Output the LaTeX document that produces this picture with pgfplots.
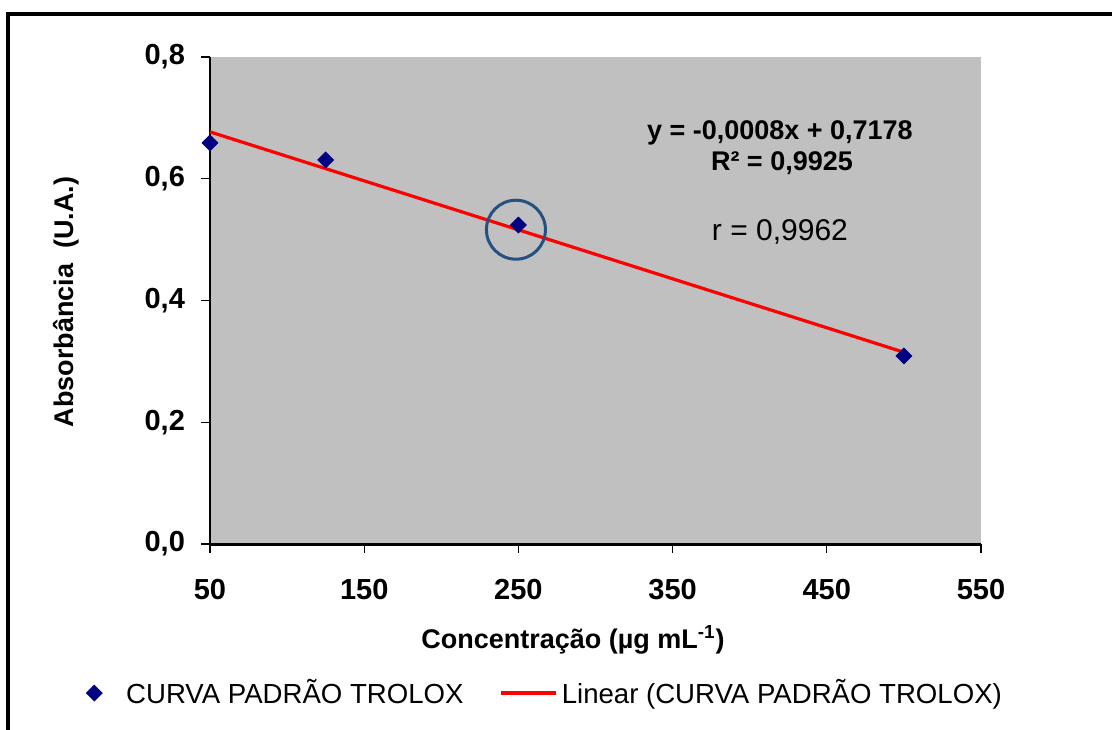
\documentclass[border=0pt]{standalone}
\usepackage{fontspec}
\setmainfont{Liberation Sans}
\usepackage{pgfplots}
\pgfplotsset{compat=1.18}
\definecolor{navy}{RGB}{0,0,128}
\definecolor{plotgray}{RGB}{192,192,192}
\definecolor{ringblue}{RGB}{38,80,130}

% legend images: a centred marker and a short line, both 27.5pt wide
\pgfplotsset{
  markleg/.style={legend image code/.code={\path (0pt,0pt) (27.5pt,0pt);
    \draw[##1] plot coordinates {(13.75pt,0pt)};}},
  lineleg/.style={legend image code/.code={\draw[##1] (0pt,0pt) -- (27.5pt,0pt);}},
}

\begin{document}
\begin{tikzpicture}
\useasboundingbox (0,0) rectangle (556pt,364.5pt);
% frame of the chart area
\draw[line width=2pt] (4pt,-2pt) -- (4pt,357.5pt) -- (562pt,357.5pt);
\begin{axis}[
  at={(105pt,92.5pt)}, anchor=south west,
  scale only axis, width=385.5pt, height=243.5pt,
  xmin=50, xmax=550, ymin=0, ymax=0.8,
  axis background/.style={fill=plotgray},
  axis x line*=bottom, axis y line*=left,
  x axis line style={line width=1.5pt, -},
  y axis line style={line width=0.6pt, -},
  xtick={50,150,250,350,450,550},
  ytick={0,0.2,0.4,0.6,0.8},
  tick align=outside, major tick length=4.5pt,
  tick style={black, line width=0.6pt},
  /pgf/number format/assume math mode=true,
  ticklabel style={font=\fontsize{14.5}{17}\selectfont\bfseries},
  yticklabel style={xshift=-4.5pt, /pgf/number format/.cd, fixed, fixed zerofill, precision=1, use comma},
  xticklabel style={yshift=-9.5pt, /pgf/number format/.cd, fixed, precision=0},
  xlabel={Concentração (µg mL\textsuperscript{-1})},
  ylabel={Absorbância\ \ (U.A.)},
  label style={font=\fontsize{13.5}{16}\selectfont\bfseries},
  xlabel style={at={(axis description cs:0.4708,-0.197)}, anchor=center},
  ylabel style={at={(axis description cs:-0.1868,0.497)}, anchor=center, rotate=0},
  legend columns=2,
  legend style={at={(-0.1868,-0.306)}, anchor=west, draw=none, fill=none,
    font=\fontsize{13.8}{16}\selectfont, inner sep=0pt,
    nodes={inner sep=2pt},
    /tikz/every even column/.append style={column sep=16pt}},
  clip=false,
]
\addplot[only marks, mark=square*, mark size=2.8pt,
  mark options={rotate=45, fill=navy, draw=navy}, markleg]
  coordinates {(50,0.659) (125,0.631) (250,0.524) (500,0.309)};
\addlegendentry{CURVA PADRÃO TROLOX}
\addplot[red, line width=1.6pt, lineleg]
  coordinates {(50,0.677) (500,0.315)};
\addlegendentry{Linear (CURVA PADRÃO TROLOX)}
\draw[ringblue, line width=1.5pt] (axis cs:248.4,0.5163) circle[radius=14.75pt];
\node[font=\fontsize{13.5}{16}\selectfont\bfseries] at (axis cs:419.6,0.675) {y = -0,0008x + 0,7178};
\node[font=\fontsize{13.5}{16}\selectfont\bfseries] at (axis cs:420.9,0.626) {R² = 0,9925};
\node[font=\fontsize{15}{18}\selectfont] at (axis cs:419.6,0.5125) {r = 0,9962};
\end{axis}
\end{tikzpicture}
\end{document}
